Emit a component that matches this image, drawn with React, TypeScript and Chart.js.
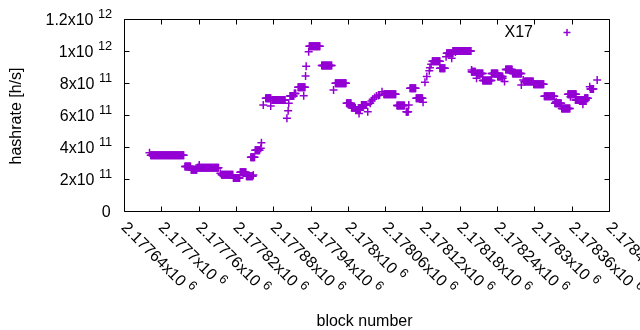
import React, { useEffect, useRef } from 'react';
import { Chart, registerables } from 'chart.js';

Chart.register(...registerables);

// Runs of consecutive blocks sharing one hashrate value
const runStart = [
  2177681, 2177683,
  2177738, 2177748, 2177758, 2177761,
  2177795, 2177797, 2177816, 2177827, 2177837, 2177848,
  2177844, 2177851, 2177860, 2177861,
  2177864, 2177868, 2177876, 2177878, 2177902, 2177904, 2177905, 2177907, 2177914, 2177920, 2177929,
  2177932, 2177933, 2177937, 2177938,
  2177958,
  2177977, 2177980,
  2177998, 2178006, 2178013, 2178018, 2178022, 2178032,
  2178036, 2178038, 2178040, 2178043, 2178046, 2178049, 2178051, 2178055, 2178058,
  2178079, 2178094, 2178098, 2178100, 2178110, 2178121,
  2178124, 2178127, 2178131, 2178132, 2178134, 2178136, 2178148,
  2178158, 2178159, 2178167, 2178173, 2178169,
  2178199, 2178199, 2178207, 2178207, 2178217, 2178231, 2178241, 2178249, 2178252, 2178254, 2178265,
  2178279, 2178282, 2178284, 2178299,
  2178316, 2178335, 2178333, 2178344, 2178358, 2178354, 2178366, 2178378, 2178381, 2178389, 2178390, 2178401,
];
const runEnd = [
  2177681, 2177736,
  2177747, 2177757, 2177792, 2177761,
  2177795, 2177815, 2177826, 2177836, 2177847, 2177848,
  2177850, 2177858, 2177860, 2177861,
  2177864, 2177876, 2177876, 2177899, 2177902, 2177904, 2177905, 2177913, 2177916, 2177931, 2177929,
  2177932, 2177933, 2177937, 2177955,
  2177974,
  2177977, 2177997,
  2178005, 2178012, 2178020, 2178018, 2178030, 2178032,
  2178036, 2178038, 2178040, 2178043, 2178046, 2178049, 2178051, 2178055, 2178077,
  2178091, 2178097, 2178098, 2178109, 2178120, 2178121,
  2178124, 2178127, 2178131, 2178132, 2178134, 2178148, 2178156,
  2178158, 2178169, 2178167, 2178173, 2178198,
  2178199, 2178205, 2178207, 2178217, 2178231, 2178241, 2178249, 2178249, 2178252, 2178264, 2178279,
  2178279, 2178282, 2178298, 2178315,
  2178332, 2178335, 2178343, 2178357, 2178358, 2178367, 2178383, 2178378, 2178386, 2178389, 2178395, 2178401,
];
const runHashrate = [
  3.64e11, 3.48e11,
  2.78e11, 2.58e11, 2.70e11, 2.87e11,
  2.36e11, 2.26e11, 2.07e11, 2.42e11, 2.17e11, 2.25e11,
  3.36e11, 3.80e11, 3.92e11, 4.27e11,
  6.62e11, 7.04e11, 6.56e11, 6.94e11, 5.79e11, 6.27e11, 6.73e11, 7.19e11, 7.35e11, 7.73e11, 7.20e11,
  8.44e11, 9.04e11, 9.96e11, 10.3e11,
  9.10e11,
  7.56e11, 7.98e11,
  6.73e11, 6.45e11, 6.32e11, 6.10e11, 6.63e11, 6.20e11,
  6.73e11, 6.87e11, 6.98e11, 7.10e11, 7.19e11, 7.22e11, 7.25e11, 7.46e11, 7.29e11,
  6.60e11, 6.20e11, 6.63e11, 7.67e11, 7.04e11, 6.80e11,
  8.04e11, 8.40e11, 8.77e11, 8.95e11, 9.17e11, 9.36e11, 8.92e11,
  9.64e11, 9.86e11, 9.54e11, 9.94e11, 10.0e11,
  8.81e11, 8.70e11, 8.29e11, 8.60e11, 8.16e11, 8.60e11, 8.40e11, 8.30e11, 8.10e11, 8.84e11, 8.60e11,
  7.88e11, 8.19e11, 8.10e11, 7.92e11,
  7.17e11, 6.83e11, 6.73e11, 6.40e11, 7.14e11, 7.29e11, 6.94e11, 6.67e11, 7.04e11, 7.77e11, 7.62e11, 8.19e11,
];

const seriesName = 'X17';
const xMin = 2177640;
const xMax = 2178420;
const xTickValues = [
  2177640, 2177700, 2177760, 2177820, 2177880, 2177940, 2178000,
  2178060, 2178120, 2178180, 2178240, 2178300, 2178360, 2178420,
];
const xTickMantissa = [
  '2.17764x10', '2.1777x10', '2.17776x10', '2.17782x10', '2.17788x10', '2.17794x10', '2.178x10',
  '2.17806x10', '2.17812x10', '2.17818x10', '2.17824x10', '2.1783x10', '2.17836x10', '2.17842x10',
];
const xTickExp = '6';
const yTickValues = [0, 2e11, 4e11, 6e11, 8e11, 1e12, 1.2e12];
const yTickMantissa = ['0', '2x10', '4x10', '6x10', '8x10', '1x10', '1.2x10'];
const yTickExp = ['', '11', '11', '11', '11', '12', '12'];
const xTitle = 'block number';
const yTitle = 'hashrate [h/s]';

const PURPLE = '#9400d3';
const FONT = '"Liberation Sans", Arial, sans-serif';

function buildPoints() {
  const pts: { x: number; y: number }[] = [];
  for (let i = 0; i < runStart.length; i++) {
    for (let b = runStart[i]; b <= runEnd[i]; b++) {
      pts.push({ x: b, y: runHashrate[i] });
    }
  }
  return pts;
}

const framePlugin = {
  id: 'gnuplotFrame',
  afterDraw(chart: any) {
    const ctx = chart.ctx as CanvasRenderingContext2D;
    const { left, right, top, bottom } = chart.chartArea;
    const xs = chart.scales.x;
    const ys = chart.scales.y;
    const L = Math.round(left) + 0.5;
    const R = Math.round(right) + 0.5;
    const T = Math.round(top) + 0.5;
    const B = Math.round(bottom) + 0.5;
    ctx.save();
    ctx.strokeStyle = '#000';
    ctx.lineWidth = 1;
    ctx.beginPath();
    ctx.rect(L, T, R - L, B - T);
    // x ticks (bottom + mirrored top)
    xTickValues.forEach((v) => {
      const px = Math.round(xs.getPixelForValue(v)) + 0.5;
      ctx.moveTo(px, B);
      ctx.lineTo(px, B - 5);
      ctx.moveTo(px, T);
      ctx.lineTo(px, T + 5);
    });
    yTickValues.forEach((v) => {
      const py = Math.round(ys.getPixelForValue(v)) + 0.5;
      ctx.moveTo(L, py);
      ctx.lineTo(L + 5, py);
      ctx.moveTo(R, py);
      ctx.lineTo(R - 5, py);
    });
    ctx.stroke();

    ctx.fillStyle = '#000';
    const baseFont = `16px ${FONT}`;
    const supFont = `12.8px ${FONT}`;
    ctx.font = baseFont;
    const spaceW = ctx.measureText(' ').width;

    // y tick labels
    const yRight = 112.2;
    yTickValues.forEach((v, i) => {
      const py = ys.getPixelForValue(v);
      ctx.textBaseline = 'alphabetic';
      if (!yTickExp[i]) {
        ctx.font = baseFont;
        ctx.textAlign = 'right';
        ctx.fillText(yTickMantissa[i], yRight - 1.5, py + 5.6);
        return;
      }
      ctx.font = supFont;
      ctx.textAlign = 'right';
      const supW = ctx.measureText(yTickExp[i]).width;
      ctx.fillText(yTickExp[i], yRight, py - 1.2);
      ctx.font = baseFont;
      ctx.fillText(yTickMantissa[i], yRight - supW - spaceW, py + 5.6);
    });

    // x tick labels, rotated 45 degrees clockwise
    xTickValues.forEach((v, i) => {
      const px = xs.getPixelForValue(v);
      ctx.save();
      ctx.translate(px + 0.5, B + 12.8);
      ctx.rotate(Math.PI / 4);
      ctx.textAlign = 'left';
      ctx.textBaseline = 'alphabetic';
      ctx.font = baseFont;
      const w = ctx.measureText(xTickMantissa[i]).width;
      ctx.fillText(xTickMantissa[i], 0, 5.6);
      ctx.font = supFont;
      ctx.fillText(xTickExp, w + spaceW, -0.8);
      ctx.restore();
    });

    // axis titles
    ctx.font = baseFont;
    ctx.textAlign = 'center';
    ctx.textBaseline = 'alphabetic';
    ctx.fillText(xTitle, 364.5, 326);
    ctx.save();
    ctx.translate(21, (T + B) / 2 + 0.5);
    ctx.rotate(-Math.PI / 2);
    ctx.fillText(yTitle, 0, 0);
    ctx.restore();

    // key
    ctx.textAlign = 'right';
    ctx.fillText(seriesName, 533, 37);
    ctx.strokeStyle = PURPLE;
    ctx.lineWidth = 1.5;
    ctx.beginPath();
    ctx.moveTo(563.5, 32.5);
    ctx.lineTo(570.5, 32.5);
    ctx.moveTo(567, 29);
    ctx.lineTo(567, 36);
    ctx.stroke();
    ctx.restore();
  },
};

export default function App() {
  const ref = useRef<HTMLCanvasElement>(null);
  useEffect(() => {
    if (!ref.current) return;
    const chart = new Chart(ref.current, {
      type: 'scatter',
      data: {
        datasets: [
          {
            label: seriesName,
            data: buildPoints(),
            pointStyle: 'cross',
            pointRadius: 4,
            pointHoverRadius: 4,
            borderColor: PURPLE,
            backgroundColor: PURPLE,
            borderWidth: 1.5,
          },
        ],
      },
      options: {
        responsive: false,
        animation: false,
        devicePixelRatio: 1,
        events: [],
        layout: { padding: { left: 124, right: 31, top: 19, bottom: 119 } },
        scales: {
          x: { type: 'linear', min: xMin, max: xMax, display: false },
          y: { type: 'linear', min: 0, max: 1.2e12, display: false },
        },
        plugins: { legend: { display: false }, tooltip: { enabled: false } },
      },
      plugins: [framePlugin],
    });
    return () => chart.destroy();
  }, []);
  return (
    <div style={{ position: 'absolute', left: 0, top: 0, width: 640, height: 330, background: '#fff' }}>
      <canvas ref={ref} width={640} height={330} style={{ display: 'block' }} />
    </div>
  );
}
